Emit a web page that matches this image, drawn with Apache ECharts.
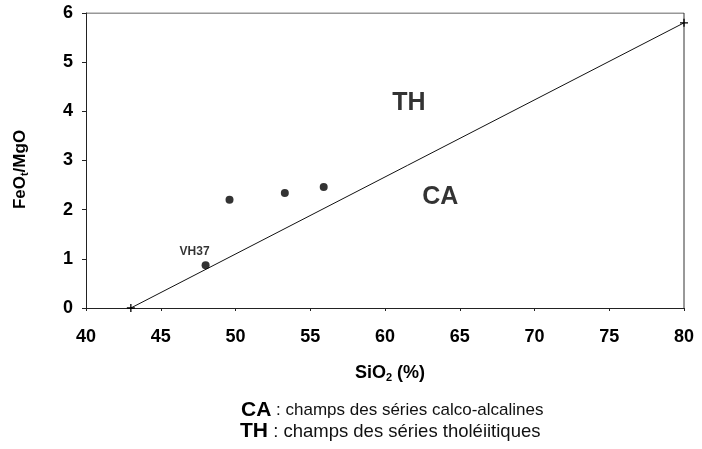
<!DOCTYPE html>
<html>
<head>
<meta charset="utf-8">
<script src="https://cdn.jsdelivr.net/npm/echarts@6/dist/echarts.min.js"></script>
<style>
  html, body { margin: 0; padding: 0; background: #fff; }
  #chart { width: 702px; height: 449px; }
</style>
</head>
<body>
<div id="chart"></div>
<script>
// SiO2 (%) vs FeOt/MgO for the analysed samples
const sampleNames = ['VH37', '', '', ''];
const silica = [48.0, 49.6, 53.3, 55.9];
const feoMgo = [0.87, 2.2, 2.34, 2.46];

// TH / CA dividing line (endpoints)
const dividerX = [43, 80];
const dividerY = [0, 5.8];

// Field labels
const fieldNames = ['TH', 'CA'];
const fieldX = [61.6, 63.7];
const fieldY = [4.17, 2.26];

const xTicks = [40, 45, 50, 55, 60, 65, 70, 75, 80];
const yTicks = [0, 1, 2, 3, 4, 5, 6];

const font = '"Liberation Sans", Arial, sans-serif';
const ink = '#000';
const chart = echarts.init(document.getElementById('chart'));

const subStyle = { fontFamily: font, fontWeight: 'bold', fontSize: 11, verticalAlign: 'bottom', padding: [9, 0, 0, 0], color: ink };

chart.setOption({
  animation: false,
  backgroundColor: '#fff',
  grid: { left: 86, right: 18, top: 13, bottom: 141 },
  xAxis: {
    type: 'value',
    min: xTicks[0], max: xTicks[xTicks.length - 1], interval: 5,
    name: 'SiO{sub|2} (%)',
    nameLocation: 'middle',
    nameGap: 55,
    nameTextStyle: {
      fontFamily: font, fontWeight: 'bold', fontSize: 18, color: ink,
      padding: [0, 0, 0, 10],
      rich: { sub: subStyle }
    },
    axisLine: { lineStyle: { color: '#222', width: 1 } },
    axisTick: { length: 3, lineStyle: { color: '#222' } },
    axisLabel: { fontFamily: font, fontWeight: 'bold', fontSize: 18, color: ink, margin: 20 },
    splitLine: { show: false }
  },
  yAxis: {
    type: 'value',
    min: yTicks[0], max: yTicks[yTicks.length - 1], interval: 1,
    name: 'FeO{sub|t}/MgO',
    nameLocation: 'middle',
    nameGap: 56,
    nameRotate: 90,
    nameTextStyle: {
      fontFamily: font, fontWeight: 'bold', fontSize: 17, color: ink,
      padding: [0, 18, 0, 0],
      rich: { sub: subStyle }
    },
    axisLine: { lineStyle: { color: '#222', width: 1 } },
    axisTick: { length: 4, lineStyle: { color: '#222' } },
    axisLabel: { fontFamily: font, fontWeight: 'bold', fontSize: 18, color: ink, margin: 13 },
    splitLine: { show: false }
  },
  series: [
    {
      // frame top and right edges
      type: 'line',
      data: [[40, 6], [80, 6], [80, 0]],
      symbol: 'none',
      lineStyle: { color: '#333', width: 1 },
      silent: true, z: 1
    },
    {
      type: 'line',
      data: dividerX.map((x, i) => [x, dividerY[i]]),
      symbol: 'path://M-1,0L1,0M0,-1L0,1',
      symbolSize: 8,
      itemStyle: { color: '#fff', borderColor: '#000', borderWidth: 1.3 },
      lineStyle: { color: '#111', width: 1 },
      silent: true, z: 2
    },
    {
      type: 'scatter',
      data: silica.map((x, i) => ({ value: [x, feoMgo[i]], name: sampleNames[i] })),
      symbol: 'circle',
      symbolSize: 8,
      itemStyle: { color: '#000' },
      label: {
        show: true, position: 'top', distance: 4,
        formatter: p => p.name,
        fontFamily: font, fontWeight: 'bold', fontSize: 12, color: ink, offset: [-11, 0]
      },
      z: 3
    },
    {
      type: 'scatter',
      data: fieldNames.map((n, i) => ({ value: [fieldX[i], fieldY[i]], name: n })),
      symbolSize: 0,
      label: {
        show: true, position: 'inside',
        formatter: p => p.name,
        fontFamily: font, fontWeight: 'bold', fontSize: 25, color: ink
      },
      silent: true, z: 3
    }
  ],
  graphic: [
    {
      type: 'text', left: 241, top: 400,
      style: {
        text: '{b|CA} : champs des séries calco-alcalines',
        font: '17px ' + font, fill: '#111',
        rich: { b: { fontFamily: font, fontWeight: 'bold', fontSize: 21, fill: ink } }
      }
    },
    {
      type: 'text', left: 240, top: 421,
      style: {
        text: '{b|TH} : champs des séries tholéiitiques',
        font: '18.5px ' + font, fill: '#111',
        rich: { b: { fontFamily: font, fontWeight: 'bold', fontSize: 21, fill: ink } }
      }
    }
  ]
});
</script>
</body>
</html>
